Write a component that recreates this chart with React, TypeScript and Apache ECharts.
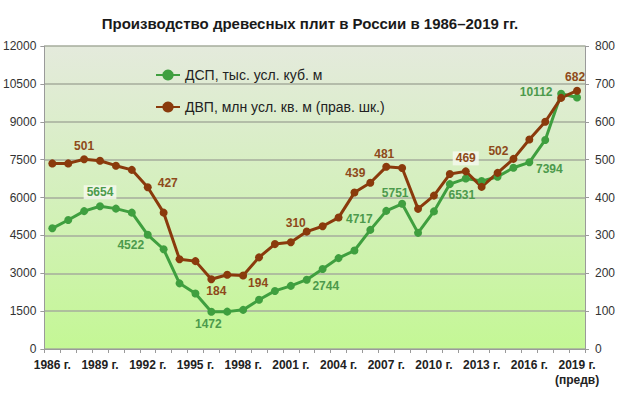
import React, { useEffect, useRef } from "react";
import * as echarts from "echarts";

const years = [
  "1986 г.", "1987 г.", "1988 г.", "1989 г.", "1990 г.", "1991 г.", "1992 г.", "1993 г.", "1994 г.",
  "1995 г.", "1996 г.", "1997 г.", "1998 г.", "1999 г.", "2000 г.", "2001 г.", "2002 г.", "2003 г.",
  "2004 г.", "2005 г.", "2006 г.", "2007 г.", "2008 г.", "2009 г.", "2010 г.", "2011 г.", "2012 г.",
  "2013 г.", "2014 г.", "2015 г.", "2016 г.", "2017 г.", "2018 г.", "2019 г.\n(предв)",
];

const dspValues = [
  4780, 5110, 5460, 5654, 5560, 5400, 4522, 3950, 2600, 2200, 1472, 1480, 1550, 1950, 2300, 2500, 2744,
  3170, 3600, 3900, 4717, 5470, 5751, 4600, 5450, 6531, 6750, 6650, 6820, 7180, 7394, 8280, 10112, 9960,
];

const dvpValues = [
  490, 490, 501, 497, 484, 473, 427, 360, 237, 232, 184, 196, 194, 242, 277, 282, 310,
  324, 347, 413, 439, 481, 478, 370, 405, 462, 469, 428, 465, 502, 553, 600, 663, 682,
];

const leftTicks = { min: 0, max: 12000, interval: 1500 };
const rightTicks = { min: 0, max: 800, interval: 100 };

const dspName = "ДСП, тыс. усл. куб. м";
const dvpName = "ДВП, млн усл. кв. м (прав. шк.)";

// label placement (index -> offset from point), style only
const dspLabelOffsets: Record<number, [number, number]> = {
  3: [0, -14], 6: [-17, 10], 10: [-3, 12], 16: [19, 6], 20: [-11, -11],
  22: [-7, -11], 25: [12, 11], 30: [20, 7], 32: [-25, -2],
};
const dvpLabelOffsets: Record<number, [number, number]> = {
  2: [0, -13], 6: [20, -4], 10: [5, 12], 12: [15, 7], 16: [-11, -9],
  20: [-15, -10], 21: [-2, -13], 26: [0, -13], 29: [-15, -8], 33: [-2, -14],
};
const boxedDsp = [3];
const boxedDvp = [26];

const FONT = "'Liberation Sans', Arial, sans-serif";
const GREEN = "#3f9f3f";
const GREEN_LABEL = "#4c9a4c";
const BROWN = "#8a3a0c";
const BROWN_LABEL = "#8e4a1a";

function buildData(values: number[], offsets: Record<number, [number, number]>, boxed: number[], color: string) {
  return values.map((v, i) => {
    const off = offsets[i];
    if (!off) return v;
    return {
      value: v,
      label: {
        show: true,
        position: "inside",
        offset: off,
        color,
        fontWeight: "bold",
        fontSize: 12,
        fontFamily: FONT,
        backgroundColor: boxed.includes(i) ? "rgba(244,248,236,0.85)" : "transparent",
        padding: boxed.includes(i) ? [1, 3] : 0,
      },
    };
  });
}

export default function App() {
  const ref = useRef<HTMLDivElement>(null);
  useEffect(() => {
    document.body.style.margin = "0";
    const chart = echarts.init(ref.current!, undefined, { renderer: "svg" });
    const axisGrey = "#9a9a9a";
    chart.setOption({
      animation: false,
      backgroundColor: "#ffffff",
      title: {
        text: "Производство древесных плит в России в 1986–2019 гг.",
        left: "center",
        top: 11,
        textStyle: { fontSize: 15, fontWeight: "bold", color: "#1a1a1a", fontFamily: FONT },
      },
      legend: {
        orient: "vertical",
        left: 150,
        top: 63,
        itemGap: 18,
        itemWidth: 24,
        itemHeight: 14,
        textStyle: { fontSize: 14, color: "#222", fontFamily: FONT },
        data: [dspName, dvpName],
      },
      grid: {
        left: 44,
        right: 35,
        top: 46,
        bottom: 47,
        show: true,
        borderWidth: 0,
        backgroundColor: new echarts.graphic.LinearGradient(0, 0, 0, 1, [
          { offset: 0, color: "#e4eadc" },
          { offset: 0.5, color: "#d4f0bc" },
          { offset: 1, color: "#c4f795" },
        ]),
      },
      xAxis: {
        type: "category",
        data: years,
        boundaryGap: true,
        axisLine: { lineStyle: { color: axisGrey } },
        axisTick: { show: true, interval: 0, length: 4, lineStyle: { color: axisGrey } },
        axisLabel: {
          interval: 2,
          fontSize: 12,
          fontWeight: "bold",
          color: "#222",
          fontFamily: FONT,
          margin: 8,
          lineHeight: 15,
        },
      },
      yAxis: [
        {
          type: "value",
          ...leftTicks,
          axisLine: { show: true, lineStyle: { color: axisGrey } },
          axisTick: { show: true, length: 4, lineStyle: { color: axisGrey } },
          splitLine: { show: true, lineStyle: { color: "#a6ad9c", width: 1.5 } },
          axisLabel: { fontSize: 12, color: "#333", fontFamily: FONT, margin: 8, formatter: (v: number) => String(v) },
        },
        {
          type: "value",
          position: "right",
          ...rightTicks,
          axisLine: { show: true, lineStyle: { color: axisGrey } },
          axisTick: { show: true, length: 4, lineStyle: { color: axisGrey } },
          splitLine: { show: false },
          axisLabel: { fontSize: 12, color: "#333", fontFamily: FONT, margin: 10, formatter: (v: number) => String(v) },
        },
      ],
      series: [
        {
          name: dspName,
          type: "line",
          yAxisIndex: 0,
          symbol: "circle",
          symbolSize: 8,
          lineStyle: { width: 3, color: GREEN },
          itemStyle: { color: GREEN },
          data: buildData(dspValues, dspLabelOffsets, boxedDsp, GREEN_LABEL),
        },
        {
          name: dvpName,
          type: "line",
          yAxisIndex: 1,
          symbol: "circle",
          symbolSize: 8,
          lineStyle: { width: 3, color: BROWN },
          itemStyle: { color: BROWN },
          data: buildData(dvpValues, dvpLabelOffsets, boxedDvp, BROWN_LABEL),
        },
      ],
    });
    return () => chart.dispose();
  }, []);
  return <div ref={ref} style={{ position: "fixed", left: 0, top: 0, width: 620, height: 396 }} />;
}
